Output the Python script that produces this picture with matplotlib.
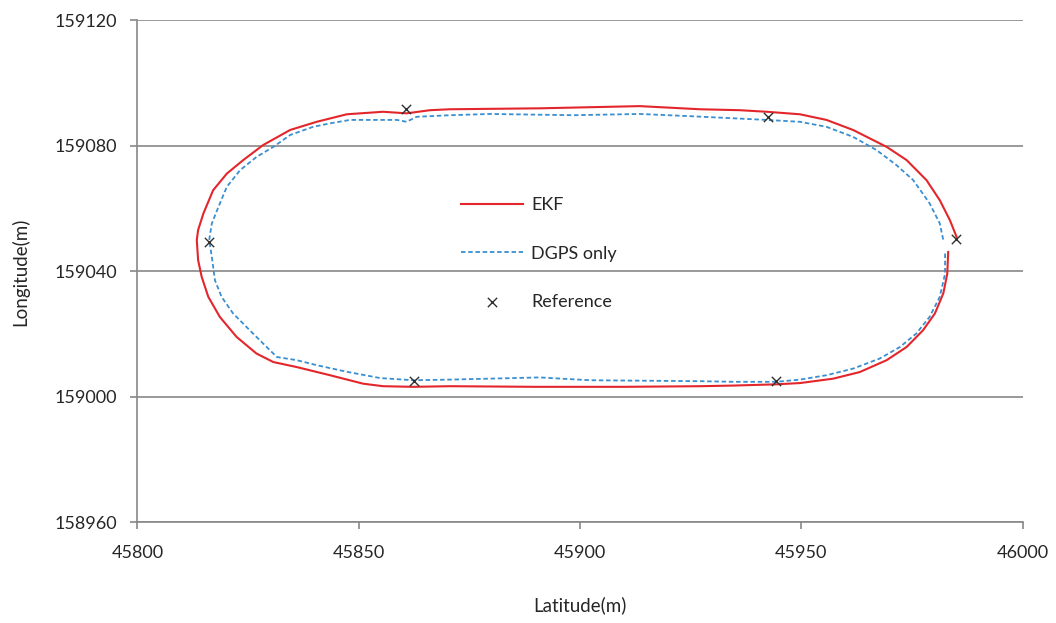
"""EKF と DGPS 単独の走行軌跡を参照点と重ねて描く"""

import matplotlib

matplotlib.use("Agg")
import matplotlib.pyplot as plt

# EKF 軌跡（右端から下辺→左辺→上辺→右端の順）
ekf_lat = [
    45983.2, 45983.0, 45982.1, 45980.2, 45977.5, 45973.8, 45969.3, 45963.2,
    45957.2, 45949.7, 45944.4, 45934.6, 45927.1, 45910.0, 45890.0, 45870.6,
    45862.3, 45855.5, 45851.0, 45843.5, 45836.0, 45830.7, 45826.9, 45822.4,
    45818.6, 45816.0, 45814.5, 45813.7, 45813.4, 45813.7, 45814.9, 45817.1,
    45820.2, 45823.9, 45828.4, 45834.5, 45840.5, 45847.3, 45855.5, 45860.8,
    45866.1, 45870.6, 45890.9, 45913.5, 45927.1, 45936.1, 45942.2, 45949.7,
    45955.7, 45961.7, 45969.3, 45973.8, 45978.3, 45981.3, 45983.6, 45985.1,
]
ekf_lon = [
    159046.2, 159039.3, 159033.0, 159026.6, 159021.2, 159015.9, 159011.7, 159007.9,
    159005.8, 159004.4, 159004.0, 159003.6, 159003.4, 159003.2, 159003.2, 159003.4,
    159003.2, 159003.4, 159004.2, 159006.9, 159009.5, 159011.1, 159013.8, 159019.1,
    159025.5, 159031.9, 159038.3, 159043.6, 159050.0, 159053.2, 159058.5, 159065.9,
    159071.2, 159075.5, 159080.3, 159085.1, 159087.7, 159090.1, 159090.9, 159090.4,
    159091.4, 159091.7, 159092.0, 159092.7, 159091.7, 159091.4, 159090.9, 159090.1,
    159088.3, 159085.1, 159079.7, 159075.5, 159069.1, 159062.7, 159056.3, 159051.0,
]

# DGPS 単独の軌跡
dgps_lat = [
    45982.5, 45982.5, 45981.3, 45979.0, 45976.0, 45972.3, 45967.7, 45961.7,
    45955.7, 45949.7, 45944.4, 45934.6, 45927.1, 45902.2, 45890.9, 45870.6,
    45862.3, 45854.8, 45847.3, 45840.5, 45836.0, 45831.5, 45828.4, 45825.4,
    45821.6, 45819.0, 45817.5, 45816.8, 45816.2, 45816.8, 45818.3, 45820.2,
    45823.2, 45826.9, 45830.7, 45834.5, 45839.7, 45843.5, 45848.0, 45858.6,
    45860.8, 45863.1, 45870.6, 45879.6, 45898.5, 45913.5, 45924.8, 45942.2,
    45949.7, 45955.7, 45961.7, 45967.0, 45971.5, 45975.3, 45979.0, 45981.3,
    45982.1,
]
dgps_lon = [
    159045.7, 159039.3, 159031.9, 159025.5, 159020.2, 159015.9, 159012.2, 159009.0,
    159006.9, 159005.5, 159004.8, 159004.8, 159005.0, 159005.3, 159006.2, 159005.5,
    159005.3, 159006.0, 159008.0, 159010.1, 159011.7, 159012.7, 159017.0, 159021.2,
    159026.6, 159031.9, 159037.2, 159044.6, 159050.0, 159055.3, 159060.6, 159067.0,
    159072.3, 159076.5, 159079.7, 159083.5, 159086.1, 159087.2, 159088.3, 159088.3,
    159087.7, 159089.3, 159089.8, 159090.2, 159089.8, 159090.2, 159089.5, 159088.3,
    159087.7, 159086.1, 159082.9, 159078.7, 159073.9, 159069.1, 159061.7, 159055.3,
    159050.0,
]

# 参照点
ref_lat = [45860.7, 45942.5, 45816.2, 45984.9, 45862.5, 45944.2]
ref_lon = [159091.8, 159089.2, 159049.3, 159050.2, 159005.0, 159005.0]

x_ticks = [45800, 45850, 45900, 45950, 46000]
y_ticks = [158960, 159000, 159040, 159080, 159120]

GRID_COLOR = "#888888"
TEXT_COLOR = "#262626"
FONT_SIZE = 13

plt.rcParams["font.family"] = ["Lato", "DejaVu Sans"]

fig = plt.figure(figsize=(10.56, 6.23), dpi=100)
ax = fig.add_axes([0.1302, 0.1616, 0.8381, 0.8055])

ax.plot(ekf_lat, ekf_lon, color="#e3262b", lw=1.5, label="EKF")
ax.plot(dgps_lat, dgps_lon, color="#3a8fd0", lw=1.3, ls=(0, (2.5, 1.5)),
        label="DGPS only")
ax.scatter(ref_lat, ref_lon, marker="x", s=45, color="#303030", lw=1.0,
           label="Reference", zorder=3)

ax.set_xlim(x_ticks[0], x_ticks[-1])
ax.set_ylim(y_ticks[0], y_ticks[-1])
ax.set_xticks(x_ticks)
ax.set_yticks(y_ticks)
ax.yaxis.grid(True, color=GRID_COLOR, lw=1.2)
ax.set_axisbelow(True)

for side in ("top", "right"):
    ax.spines[side].set_visible(False)
for side in ("left", "bottom"):
    ax.spines[side].set_color(GRID_COLOR)
    ax.spines[side].set_linewidth(1.2)
ax.tick_params(colors=GRID_COLOR, labelcolor=TEXT_COLOR, labelsize=FONT_SIZE,
               length=5, width=1.2)
ax.tick_params(axis="x", pad=11)
ax.tick_params(axis="y", pad=10)

ax.set_xlabel("Latitude(m)", fontsize=FONT_SIZE + 0.5, color=TEXT_COLOR,
              labelpad=26)
ax.set_ylabel("Longitude(m)", fontsize=FONT_SIZE + 0.5, color=TEXT_COLOR,
              labelpad=18)

ax.legend(loc="upper left", bbox_to_anchor=(0.366, 0.648), frameon=False,
          fontsize=FONT_SIZE, labelspacing=1.8, handlelength=3.4,
          borderpad=0, borderaxespad=0, handletextpad=0.45,
          labelcolor=TEXT_COLOR)

fig.savefig("out.png", dpi=100)
